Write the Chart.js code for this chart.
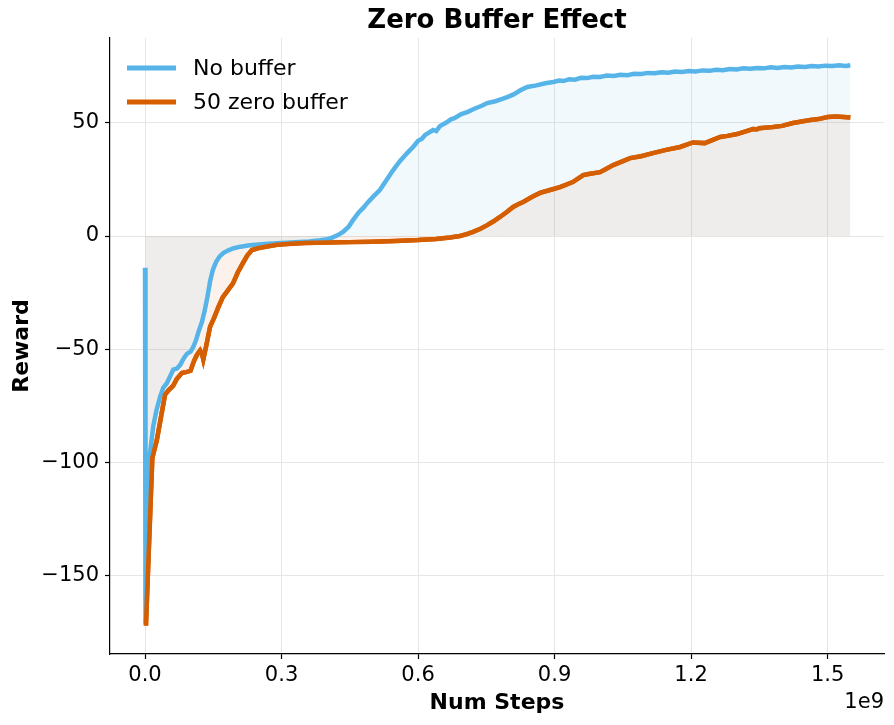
<!DOCTYPE html>
<html>
<head>
<meta charset="utf-8">
<script src="https://cdn.jsdelivr.net/npm/chart.js@4.4.1/dist/chart.umd.min.js"></script>
<style>
html,body{margin:0;padding:0;background:#fff;}
#wrap{width:894px;height:725px;position:relative;}
</style>
</head>
<body>
<div id="wrap"><canvas id="c" width="894" height="725"></canvas></div>
<script>
// Steps are in units of 1e9
const xTicks = [0.0, 0.3, 0.6, 0.9, 1.2, 1.5];
const yTicks = [-150, -100, -50, 0, 50];

const noBufferSteps = [
  0.000, 0.001, 0.006, 0.011, 0.018, 0.025, 0.033, 0.040, 0.048, 0.055,
  0.062, 0.070, 0.077, 0.085, 0.092, 0.100, 0.106, 0.112, 0.118, 0.125,
  0.131, 0.137, 0.143, 0.149, 0.156, 0.164, 0.172, 0.183, 0.195, 0.210,
  0.230, 0.250, 0.270, 0.300, 0.330, 0.360, 0.385, 0.400, 0.410, 0.425,
  0.435, 0.447, 0.457, 0.470, 0.480, 0.488, 0.502, 0.516, 0.530, 0.545,
  0.560, 0.576, 0.590, 0.600, 0.608, 0.615, 0.633, 0.640, 0.648, 0.664,
  0.672, 0.680, 0.695, 0.708, 0.725, 0.740, 0.752, 0.770, 0.785, 0.796,
  0.810, 0.825, 0.840, 0.860, 0.880, 0.897, 0.910, 0.920, 0.932, 0.945,
  0.958, 0.971, 0.985, 1.000, 1.015, 1.030, 1.045, 1.060, 1.075, 1.090,
  1.105, 1.120, 1.135, 1.150, 1.165, 1.180, 1.195, 1.210, 1.225, 1.240,
  1.255, 1.270, 1.285, 1.300, 1.315, 1.330, 1.345, 1.360, 1.375, 1.390,
  1.405, 1.420, 1.435, 1.450, 1.465, 1.480, 1.495, 1.510, 1.525, 1.540,
  1.550
];
const noBufferReward = [
  -14, -171, -130, -96, -84, -77, -71, -67, -65, -62,
  -59, -58.5, -57, -54, -52, -51, -49, -46, -42, -38,
  -33, -27, -20, -15, -11.5, -9, -7.5, -6.3, -5.4, -4.7,
  -4.1, -3.7, -3.4, -3.1, -2.8, -2.4, -1.9, -1.4, -0.8, 0.5,
  1.8, 4, 7, 10.5, 12.5, 14.5, 17.5, 20.3, 24.5, 29,
  33, 36.6, 39.5, 42, 42.8, 44.5, 46.8, 46.3, 48.5, 50.3,
  51.5, 52, 53.8, 54.7, 56.3, 57.5, 58.7, 59.5, 60.5, 61.3,
  62.5, 64.3, 65.8, 66.5, 67.4, 68, 68.6, 68.4, 69.2, 69.0,
  69.8, 69.7, 70.3, 70.2, 70.8, 70.6, 71.2, 71.0, 71.6, 71.5,
  72.0, 71.8, 72.3, 72.1, 72.6, 72.4, 72.8, 72.6, 73.1, 72.9,
  73.4, 73.2, 73.7, 73.5, 74.0, 73.8, 74.2, 74.0, 74.5, 74.2,
  74.6, 74.4, 74.8, 74.6, 75.0, 74.8, 75.2, 75.0, 75.4, 75.1,
  75.4
];

const zeroBufferSteps = [
  0.002, 0.016, 0.026, 0.035, 0.044, 0.052, 0.062, 0.070, 0.081, 0.092,
  0.100, 0.108, 0.114, 0.121, 0.125, 0.128, 0.135, 0.143, 0.152, 0.162,
  0.171, 0.182, 0.193, 0.204, 0.215, 0.225, 0.235, 0.250, 0.268, 0.290,
  0.312, 0.350, 0.400, 0.450, 0.500, 0.550, 0.600, 0.640, 0.670, 0.692,
  0.707, 0.721, 0.737, 0.752, 0.766, 0.780, 0.795, 0.809, 0.820, 0.831,
  0.850, 0.868, 0.890, 0.912, 0.940, 0.963, 0.975, 1.000, 1.015, 1.029,
  1.045, 1.066, 1.090, 1.116, 1.145, 1.176, 1.204, 1.230, 1.264, 1.280,
  1.301, 1.336, 1.345, 1.350, 1.380, 1.400, 1.424, 1.462, 1.480, 1.500,
  1.520, 1.550
];
const zeroBufferReward = [
  -172, -98, -90, -80, -70, -68, -66, -63, -60.5, -60,
  -59.5, -55, -52.5, -50.5, -52, -54.5, -48, -40, -36, -31,
  -27, -24, -21, -16, -12, -8.5, -6.2, -5.3, -4.6, -3.9,
  -3.5, -3.1, -2.9, -2.7, -2.5, -2.2, -1.8, -1.3, -0.7, 0,
  0.8, 1.8, 3.2, 4.8, 6.5, 8.4, 10.6, 12.8, 14, 15,
  17.2, 19, 20.3, 21.6, 23.8, 26.9, 27.4, 28.2, 29.8, 31.3,
  32.6, 34.4, 35.2, 36.6, 38, 39.3, 41.3, 41, 43.7, 44.2,
  45, 47.2, 47.1, 47.6, 48.1, 48.6, 49.9, 51.2, 51.6, 52.5,
  52.7, 52.3
];

const BLUE = '#56B4E9';
const ORANGE = '#D55E00';
const FONT = "'DejaVu Sans', sans-serif";

function toXY(xs, ys){ return xs.map((x,i)=>({x:x, y:ys[i]})); }
function fmtY(v){ return v < 0 ? '\u2212' + Math.abs(v) : String(v); }

// Redraw the orange line element on top of the blue one (fills keep blue on top)
const orangeOnTop = {
  id: 'orangeOnTop',
  afterDatasetsDraw(chart){
    const meta = chart.getDatasetMeta(1);
    if (!meta || !meta.dataset) return;
    const ctx = chart.ctx, a = chart.chartArea;
    ctx.save();
    ctx.beginPath();
    ctx.rect(a.left, a.top, a.right - a.left, a.bottom - a.top);
    ctx.clip();
    meta.dataset.draw(ctx, a);
    ctx.restore();
  }
};

const textPlugin = {
  id: 'textPlugin',
  afterDraw(chart){
    const ctx = chart.ctx, a = chart.chartArea;
    ctx.save();
    ctx.fillStyle = '#000';
    ctx.textAlign = 'center';
    ctx.textBaseline = 'middle';
    ctx.font = "bold 26px " + FONT;
    ctx.fillText('Zero Buffer Effect', (a.left + a.right)/2, 21);
    ctx.font = "bold 22px " + FONT;
    ctx.fillText('Num Steps', (a.left + a.right)/2, 703);
    ctx.save();
    ctx.translate(22, (a.top + a.bottom)/2);
    ctx.rotate(-Math.PI/2);
    ctx.fillText('Reward', 0, 0);
    ctx.restore();
    ctx.font = "21px " + FONT;
    ctx.textAlign = 'right';
    ctx.fillText('1e9', a.right, 703);
    // legend
    const items = [['No buffer', BLUE], ['50 zero buffer', ORANGE]];
    ctx.textAlign = 'left';
    ctx.font = "22px " + FONT;
    items.forEach((it, i) => {
      const y = 68 + i*34;
      ctx.strokeStyle = it[1];
      ctx.lineWidth = 5;
      ctx.beginPath();
      ctx.moveTo(127, y);
      ctx.lineTo(176, y);
      ctx.stroke();
      ctx.fillStyle = '#000';
      ctx.fillText(it[0], 193, y + 1);
    });
    ctx.restore();
  }
};

new Chart(document.getElementById('c'), {
  type: 'line',
  data: {
    datasets: [
      {
        label: 'No buffer',
        data: toXY(noBufferSteps, noBufferReward),
        borderColor: BLUE,
        backgroundColor: 'rgba(86,180,233,0.08)',
        borderWidth: 4.5,
        pointRadius: 0,
        tension: 0,
        fill: 'origin',
        order: 1
      },
      {
        label: '50 zero buffer',
        data: toXY(zeroBufferSteps, zeroBufferReward),
        borderColor: ORANGE,
        backgroundColor: 'rgba(213,94,0,0.08)',
        borderWidth: 4.5,
        pointRadius: 0,
        tension: 0,
        fill: 'origin',
        order: 2
      }
    ]
  },
  options: {
    responsive: false,
    animation: false,
    devicePixelRatio: 1,
    layout: { padding: { top: 38, right: 10, left: 0, bottom: 0 } },
    plugins: {
      legend: { display: false },
      title: { display: false },
      tooltip: { enabled: false },
      filler: { propagate: false }
    },
    scales: {
      x: {
        type: 'linear',
        min: -0.077,
        max: 1.624,
        afterBuildTicks(s){ s.ticks = xTicks.map(v => ({value: v})); },
        afterFit(s){ s.height = 71; },
        ticks: {
          color: '#000',
          font: { family: FONT, size: 21 },
          padding: 4,
          maxRotation: 0,
          autoSkip: false,
          callback: v => Number(v).toFixed(1)
        },
        grid: { color: '#e6e6e6', lineWidth: 1, drawTicks: true, tickLength: 5, tickColor: '#000', tickWidth: 1.2 },
        border: { display: true, color: '#000', width: 1.2 }
      },
      y: {
        type: 'linear',
        min: -184.5,
        max: 87.4,
        afterBuildTicks(s){ s.ticks = yTicks.map(v => ({value: v})); },
        afterFit(s){ s.width = 110; },
        ticks: {
          color: '#000',
          font: { family: FONT, size: 21 },
          padding: 6,
          autoSkip: false,
          callback: v => fmtY(v)
        },
        grid: { color: '#e6e6e6', lineWidth: 1, drawTicks: true, tickLength: 5, tickColor: '#000', tickWidth: 1.2 },
        border: { display: true, color: '#000', width: 1.2 }
      }
    }
  },
  plugins: [orangeOnTop, textPlugin]
});
</script>
</body>
</html>
